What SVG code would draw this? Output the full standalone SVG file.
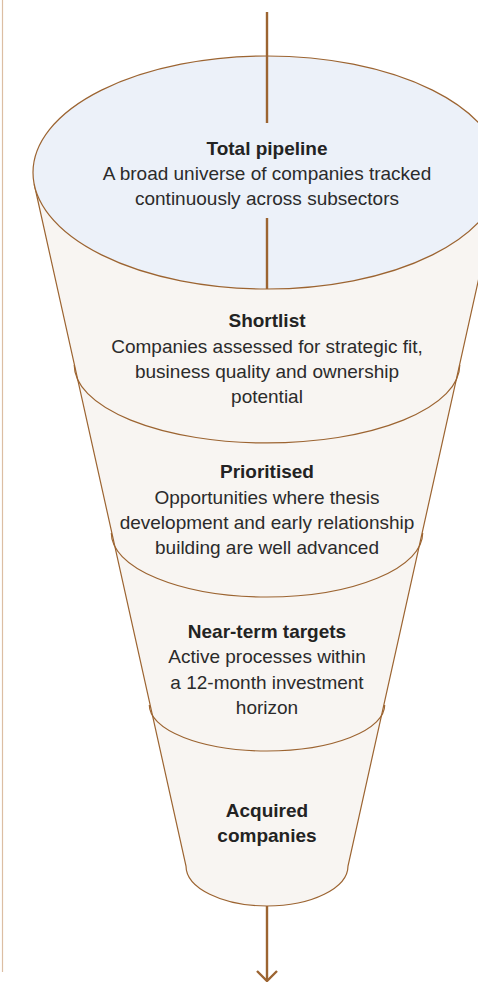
<svg xmlns="http://www.w3.org/2000/svg" width="478" height="982" viewBox="0 0 478 982">
  <style>
    .edge { fill: none; stroke: #9c6431; stroke-width: 1.2; }
    .flow { fill: none; stroke: #9c6431; stroke-width: 2.4; }
    .title { font-family: "Liberation Sans", Arial, sans-serif; font-size: 19px; font-weight: bold; fill: #232323; text-anchor: middle; }
    .body { font-family: "Liberation Sans", Arial, sans-serif; font-size: 19px; fill: #2b2b2b; text-anchor: middle; }
  </style>

  <!-- margin rule -->
  <line x1="2.5" y1="0" x2="2.5" y2="972" stroke="#dcbea3" stroke-width="1.2"/>

  <!-- funnel body -->
  <g id="funnel-body">
    <path d="M 34.4 185 L 186 866 A 81 40 0 0 0 348 866 L 499.6 185 Z" fill="#f8f5f2" stroke="#9c6431" stroke-width="1.2"/>
  </g>

  <!-- stage 1: top opening -->
  <g id="total-pipeline">
    <ellipse cx="267" cy="172.5" rx="234" ry="116.5" fill="#ecf1f9" stroke="#9c6431" stroke-width="1.2"/>
    <text class="title" x="267" y="154.5">Total pipeline</text>
    <text class="body" x="267" y="179.5">A broad universe of companies tracked</text>
    <text class="body" x="267" y="204.5">continuously across subsectors</text>
  </g>

  <!-- stage 2 -->
  <g id="shortlist">
    <path class="edge" d="M 74.2 365 A 192.8 78 0 0 0 459.8 365"/>
    <text class="title" x="267" y="327">Shortlist</text>
    <text class="body" x="267" y="352.5">Companies assessed for strategic fit,</text>
    <text class="body" x="267" y="377.5">business quality and ownership</text>
    <text class="body" x="267" y="402.5">potential</text>
  </g>

  <!-- stage 3 -->
  <g id="prioritised">
    <path class="edge" d="M 111.3 533 A 155.7 64 0 0 0 422.7 533"/>
    <text class="title" x="267" y="478">Prioritised</text>
    <text class="body" x="267" y="503.5">Opportunities where thesis</text>
    <text class="body" x="267" y="528.5">development and early relationship</text>
    <text class="body" x="267" y="554">building are well advanced</text>
  </g>

  <!-- stage 4 -->
  <g id="near-term-targets">
    <path class="edge" d="M 149.3 705 A 117.7 46 0 0 0 384.7 705"/>
    <text class="title" x="267" y="637.5">Near-term targets</text>
    <text class="body" x="267" y="663">Active processes within</text>
    <text class="body" x="267" y="688.5">a 12-month investment</text>
    <text class="body" x="267" y="713.5">horizon</text>
  </g>

  <!-- stage 5: outlet -->
  <g id="acquired-companies">
    <text class="title" x="267" y="817">Acquired</text>
    <text class="title" x="267" y="842">companies</text>
  </g>

  <!-- flow line through the funnel -->
  <g id="connectors">
    <line class="flow" x1="267" y1="12" x2="267" y2="123"/>
    <line class="flow" x1="267" y1="218" x2="267" y2="289"/>
    <line class="flow" x1="267" y1="906" x2="267" y2="980"/>
    <polyline class="flow" points="257,971 267,981 277,971"/>
  </g>
</svg>
